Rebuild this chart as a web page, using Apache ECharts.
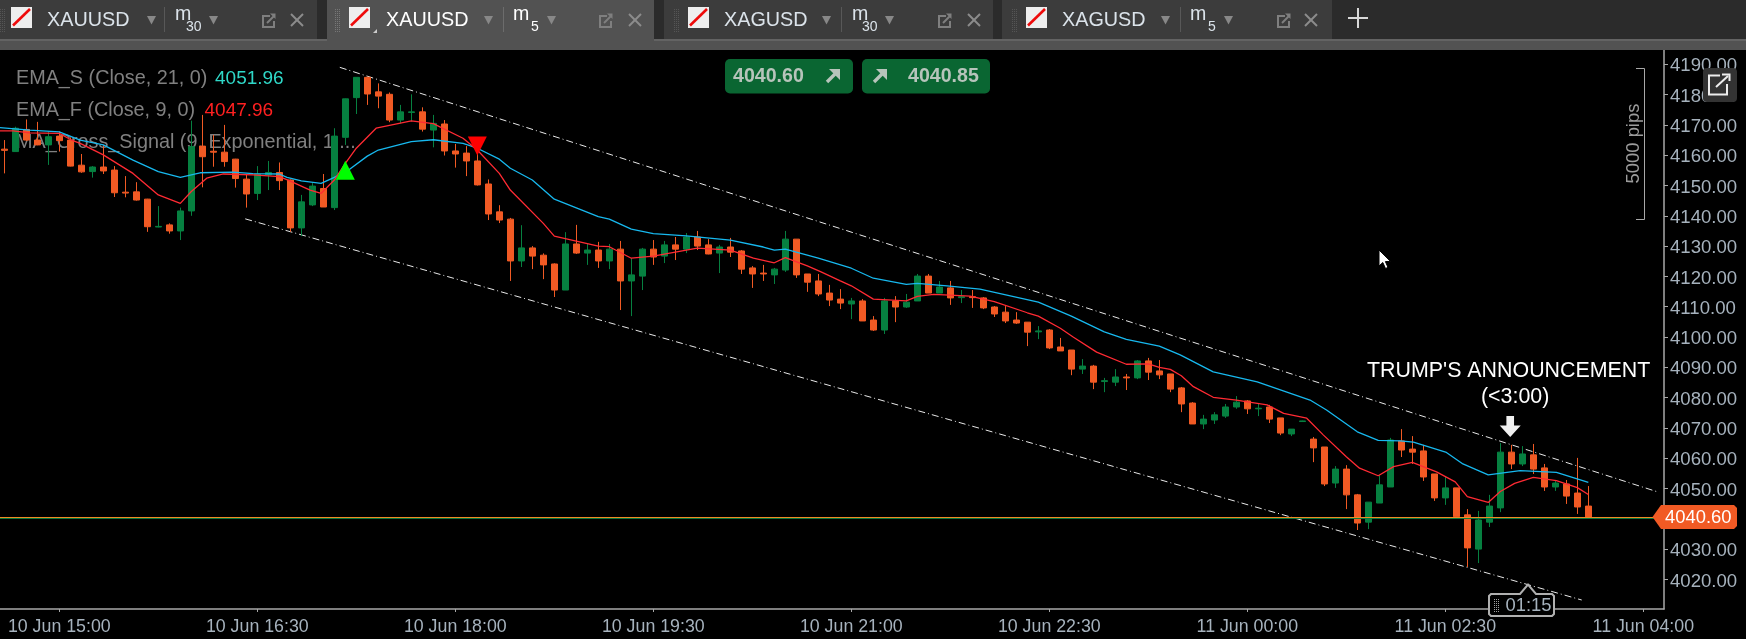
<!DOCTYPE html>
<html><head><meta charset="utf-8">
<style>html,body{margin:0;padding:0;background:#000;overflow:hidden}#c{width:1746px;height:639px}</style>
<script src="https://cdn.jsdelivr.net/npm/echarts@6/dist/echarts.min.js"></script>
</head><body><div id="c"></div>
<script>
const opens=[4162,4161.2,4168.5,4165,4163.4,4166.3,4165,4156.7,4154.6,4156.1,
4155.1,4147.8,4147.9,4145.5,4136.3,4137,4135,4141.6,4163,4161.3,
4161,4158.7,4152.1,4147.4,4153.5,4154.3,4151.8,4136,4143.6,4149,
4142.7,4165.9,4179,4185.7,4180.9,4180.1,4171.6,4174.1,4174.3,4168.3,
4170.3,4161.4,4160.7,4158.1,4150.5,4141.3,4138.9,4125.1,4129.4,4127,
4124.1,4115.5,4130.7,4127.7,4128.7,4125.1,4129,4118.5,4120.1,4129,
4126.7,4130.4,4129,4133,4130.4,4127.7,4129.7,4128.4,4122.8,4121.1,
4120.5,4122.1,4132.3,4120.8,4118.5,4114.5,4112.5,4110.9,4111.9,4105.6,
4102.3,4111.9,4109.9,4111.9,4120.1,4114.5,4116.2,4113,4113.3,4112.9,
4109.9,4108.2,4105.6,4104.9,4101.7,4102.3,4096.7,4095.7,4089.4,4090.4,
4085.3,4085.1,4086.8,4086.5,4092.1,4088.8,4087.8,4083.2,4078.2,4071.3,
4072.6,4073.9,4076.9,4078.9,4076.3,4076.9,4073.3,4068,4072.1,4066.3,
4063.7,4051.8,4056.4,4047.9,4038.9,4045.2,4050.5,4065.7,4063,4062.4,
4054.8,4046.9,4050.2,4041.3,4030,4038.9,4043.6,4062,4058.1,4061.1,
4056.8,4050.5,4051.5,4048.5,4044.2];
const closes=[4161.6,4168.9,4165,4163.4,4166.1,4164.8,4156.4,4154.5,4156.1,4154.8,
4147.6,4147.5,4145.2,4136.4,4136.5,4135,4141.6,4162.8,4159.5,4161,
4157.9,4152.3,4147.2,4153.8,4154.3,4151.6,4136,4144.6,4149.8,4142.9,
4166.3,4178.6,4185.7,4180.2,4179.5,4171.6,4174.3,4174.3,4168.6,4170.5,
4161.4,4160.4,4158.1,4150.2,4140.6,4138.6,4125.1,4129.4,4126.7,4123.8,
4115.5,4130.7,4127.7,4128.7,4125.1,4129,4118.5,4120.5,4129,4126.4,
4130.4,4129,4133,4130,4127.4,4129.7,4128,4122.4,4120.8,4120.8,
4122.4,4132.3,4120.5,4118.1,4114.2,4112.2,4111.2,4111.9,4105.3,4102.3,
4111.9,4109.9,4111.5,4120.1,4114.5,4116.5,4112.9,4113.3,4113,4109.6,
4107.6,4105.3,4104.6,4101.6,4102,4096.4,4095.4,4089.4,4090.4,4085.1,
4085.6,4086.8,4086.5,4092.1,4088.4,4087.5,4082.8,4077.9,4071.3,4072.9,
4074.3,4076.9,4078.5,4076.3,4076.5,4072.9,4068.3,4069.6,4072.3,4063.4,
4051.5,4056.4,4047.9,4038.6,4045.5,4051.2,4066,4062.7,4062,4053.8,
4046.9,4050.2,4040.7,4030.4,4039.6,4044.2,4062,4058.1,4061.4,4056.4,
4050.5,4051.8,4047.5,4043.9,4040.6];
const lows=[4154,4161.2,4164.7,4163.3,4156.8,4161.2,4156.3,4154.2,4152.6,4153.8,
4146.2,4146.1,4145,4134.7,4136.2,4134.1,4132,4140,4149.4,4156.2,
4156.2,4149.3,4142.7,4145.2,4148.5,4148.5,4134.7,4133.3,4143.2,4142.9,
4141.9,4163.4,4173.6,4176.6,4175.5,4170.9,4170.5,4171.1,4167.8,4162.6,
4159.9,4155.9,4153.1,4150,4138.6,4137.6,4118.5,4123.1,4122.4,4119.1,
4113.2,4115.5,4127.4,4123.8,4122.8,4122.4,4108.9,4106.9,4115.5,4123.8,
4124.4,4125.4,4127.7,4128.7,4127.3,4121.1,4126.4,4120.8,4116.2,4118.5,
4117.5,4121.5,4119.5,4114.9,4113.5,4110.2,4109.2,4105.9,4105.3,4102,
4101,4104.9,4109.6,4111.9,4114.5,4114.5,4110.6,4111.2,4109.6,4109.2,
4106.6,4104.6,4104.3,4097,4099.3,4096,4095.4,4087.4,4087.8,4082.8,
4081.8,4083.8,4082.5,4086.1,4085.8,4086.1,4081.8,4075.2,4071.3,4069.6,
4071.3,4073.3,4076.3,4074.6,4073.9,4071.6,4067.6,4067.3,4072,4058.7,
4050.8,4050.2,4043.2,4036.3,4036.6,4045.2,4050.5,4060.4,4058.1,4052.5,
4045.9,4044.6,4040.7,4024.1,4025.4,4037.3,4042.2,4056.4,4057.4,4054.8,
4049.2,4049.2,4044.9,4041.6,4040.6];
const highs=[4165,4169.4,4171.8,4171,4167.8,4167.8,4165.9,4160.4,4156.4,4163.4,
4156.4,4153.1,4151.1,4145.6,4143.2,4137.5,4142.7,4171.4,4173.3,4166.7,
4170,4158.8,4153.8,4156.4,4158.1,4157.6,4152,4146.9,4150.8,4153.8,
4168.9,4178.7,4185.7,4185.9,4183.7,4180.7,4176.6,4180.1,4175.8,4173.3,
4171.6,4163.7,4163,4162.3,4152,4143.5,4139.3,4136.9,4130,4127.6,
4124.3,4134.6,4137,4130.7,4131.4,4130.7,4131.7,4126,4129.4,4132,
4131.7,4133,4134.3,4135,4132.3,4130.4,4132.7,4128.7,4123.4,4123.8,
4122.8,4135,4132.3,4120.8,4120.8,4117.2,4115.8,4112.9,4112.5,4106.9,
4112.9,4113.5,4114.2,4120.8,4120.8,4118.5,4118.5,4115.5,4115.5,4113.2,
4110.2,4110.2,4108.2,4104.9,4103.6,4102.6,4099.7,4095.7,4092.7,4090.8,
4086.5,4089.4,4087.8,4092.4,4093.1,4092.4,4087.8,4083.5,4078.5,4074.3,
4075.2,4077.9,4080.5,4079.2,4077.9,4077.6,4073.3,4069.6,4072.4,4067,
4063.7,4057.4,4057.7,4048.2,4045.5,4054.4,4066.7,4069.6,4067.3,4064.4,
4054.8,4054.1,4050.2,4043.2,4042.6,4047.9,4065,4064.4,4064,4064.7,
4058.1,4052.5,4052.8,4060.1,4050.8];
const emaSlowBars=[-0.4,2.3,5,6.9,9,11.7,14,16,17.8,20.8,22.6,25,25.7,27,28.8,30,31.3,33,34,37,39,41.7,43,45,46,48,50,54,55,57,59,62,66,69,70,71,74,77,79,82,83,85.7,88.7,94,97,100,102,105,106.9,109.9,113.9,118.7,120.2,123,124.9,126.9,128.1,131.1,132.6,134.9,137.8,141.1,144];
const emaSlowVals=[4169.1,4168.3,4167.7,4165,4163.4,4158.4,4154.6,4152.7,4154.2,4154.4,4153.9,4153.8,4152.7,4151.5,4150.7,4152.7,4155.1,4159.7,4161.7,4164.5,4165.1,4163.9,4162.3,4158.7,4155.7,4151.8,4145.5,4139.7,4138.9,4135.6,4134.1,4133.4,4132,4129.7,4128.7,4129,4126,4122.7,4119.4,4117.4,4117.7,4116.9,4115.8,4111.5,4106.9,4101.7,4099.2,4097,4094.1,4088.5,4085.2,4079.2,4075.9,4068.7,4065.9,4065.7,4065.3,4061.9,4058.1,4054.5,4055.9,4055.3,4052];
const emaFastBars=[-0.4,0.8,2.3,5,6.1,6.9,9,11.7,14,16,17,18.4,19.9,22.6,25,25.8,27.8,28.8,30,31,32,33.8,37,39,41.7,43,45,46,49,50,54,55,57,59,61,63,66,68.1,70,71,73,74.2,76,77,79,82,83,84.5,87.8,90,93,94,96,97.2,99.3,102,104,105,106,107,108.1,109.9,112,114.8,116.3,118.4,119.9,122,123.2,124.9,126.3,128,130.2,131.9,133,134.9,136,137.3,139,141.1,143,144];
const emaFastVals=[4168,4168,4167.4,4167.2,4165,4163.9,4160.1,4154,4146.9,4144.1,4148,4152.4,4153.8,4153.5,4152.9,4151.8,4148.5,4147.4,4151.8,4157.3,4162.3,4168.9,4171.3,4170.4,4165.6,4161.7,4154,4148.5,4137.5,4133.3,4130,4129.8,4126,4126.7,4128,4129.3,4128.7,4126,4124.5,4126.2,4123.5,4121.6,4118.5,4116.9,4112.5,4111.9,4113.4,4114.1,4113.5,4111.7,4108,4106.9,4102.9,4099.9,4095,4091,4091.1,4090,4089.3,4087.2,4083.6,4080.1,4079.2,4077.6,4074.8,4073.2,4067.7,4060.5,4056.7,4054.2,4057.2,4058.6,4055.5,4052.2,4047.3,4045.4,4049,4051.7,4053.7,4052.6,4050.3,4048];
const channelTop=[[30.5,4189],[150.2,4049]];
const channelBottom=[[21.9,4139],[143.4,4013.2]];
const priceLineA=4040.43, priceLineB=4040.1;
const buySignal=[[31,4155]], sellSignal=[[43,4163]], announcementArrow=[[136.9,4070.5]];
const timeTickBars=[5,23,41,59,77,95,113,131,149];
const timeTickLabels=['10 Jun 15:00','10 Jun 16:30','10 Jun 18:00','10 Jun 19:30','10 Jun 21:00','10 Jun 22:30','11 Jun 00:00','11 Jun 02:30','11 Jun 04:00'];
const priceTicks=[4020,4030,4040,4050,4060,4070,4080,4090,4100,4110,4120,4130,4140,4150,4160,4170,4180,4190];
const pairs=(a,b)=>a.map((v,i)=>[v,b[i]]);
const candles=opens.map((o,i)=>[i,o,closes[i],lows[i],highs[i]]);

const UP='#068040',DOWN='#f15a24',LBL='#a6b2bd',F='"Liberation Sans"';
function txt(text,x,y,size,fill,o){o=o||{};return {type:'text',z:o.z==null?100:o.z,silent:true,rotation:o.rot||0,x:x,y:y,style:{text:text,x:0,y:0,fill:fill,font:(o.bold?'bold ':'')+size+'px '+F,textAlign:o.align||'left',textVerticalAlign:'middle'}};}
function rect(x,y,w,h,fill,r,z){return {type:'rect',z:z==null?90:z,silent:true,shape:{x:x,y:y,width:w,height:h,r:r||0},style:{fill:fill}};}
function poly(pts,fill,z,stroke,lw){return {type:'polygon',z:z==null?100:z,silent:true,shape:{points:pts},style:{fill:fill,stroke:stroke||null,lineWidth:lw||0}};}
function pl(pts,stroke,lw,z){return {type:'polyline',z:z==null?100:z,silent:true,shape:{points:pts},style:{fill:null,stroke:stroke,lineWidth:lw||1}};}
function tri(x0,x1,y0,y1,c){return poly([[x0,y0],[x1,y0],[(x0+x1)/2,y1]],c);}
function popIcon(x,y,c){return [pl([[x+7,y+2],[x,y+2],[x,y+13],[x+11,y+13],[x+11,y+7]],c,2),pl([[x+4,y+9],[x+11,y+2]],c,2),poly([[x+7,y-0.5],[x+12.5,y-0.5],[x+12.5,y+5]],c)];}
function xIcon(x,y,c){return [pl([[x,y],[x+12,y+12]],c,2),pl([[x+12,y],[x,y+12]],c,2)];}
function grip(x,y0,y1,c,z){const e=[];for(let yy=y0;yy<y1;yy+=2){e.push(rect(x,yy,1,1,c,0,z||92),rect(x+2,yy,1,1,c,0,z||92),rect(x+4,yy,1,1,c,0,z||92));}return e;}
function tab(p){
  const tc=p.active?'#ffffff':'#dbe3ea';
  let e=[];
  if(p.grip!=null)e=e.concat(grip(p.grip,9,32,p.active?'#777':'#555'));
  e.push(rect(p.flag,7,21,21,'#eeeeee',0,95),pl([[p.flag+2,25.5],[p.flag+19,9]],'#ee0a0a',2.6,96));
  e.push(txt(p.sym,p.text,20.5,19.8,tc));
  e.push(tri(p.t1,p.t1+9,16,24.5,'#888'));
  e.push(rect(p.sep,7,1,25,p.active?'#6c6c6c':'#585858',0,95));
  e.push(txt('m',p.m,14.5,19.6,tc));
  e.push(txt(p.per,p.sub,27.5,14,tc));
  e.push(tri(p.t2,p.t2+9,16,24.5,'#888'));
  e=e.concat(popIcon(p.pop,14,'#7f7f7f'),xIcon(p.x,14,'#8c8c8c'));
  return e;
}
function upArrow(x,y,c){return [pl([[x,y+13],[x+10,y+3]],c,3.4),poly([[x+2,y],[x+13,y],[x+13,y+11]],c)];}
let g=[];
g.push(rect(0,0,1746,39,'#2b2b2b',0,80));
g.push(rect(0,39,1746,2,'#636363',0,81));
g.push(rect(0,41,1746,9,'#525252',0,81));
g.push(rect(0,0,317,39,'#3c3c3c',0,82));
g.push(rect(327,0,327,50,'#525252',0,82));
g.push(rect(664,0,329,39,'#3c3c3c',0,82));
g.push(rect(1002,0,330,39,'#3c3c3c',0,82));
g=g.concat(grip(0,9,32,'#555'));
g=g.concat(tab({sym:'XAUUSD',per:'30',flag:11,text:47,t1:147,sep:164,m:175,sub:186,t2:209,pop:263,x:291}));
g=g.concat(tab({active:true,grip:335,sym:'XAUUSD',per:'5',flag:349,text:386,t1:484,sep:503,m:513,sub:531,t2:547,pop:600,x:629}));
g=g.concat(tab({grip:674,sym:'XAGUSD',per:'30',flag:688,text:724,t1:822,sep:841,m:852,sub:862,t2:885,pop:939,x:968}));
g=g.concat(tab({grip:1012,sym:'XAGUSD',per:'5',flag:1026,text:1062,t1:1161,sep:1180,m:1190,sub:1208,t2:1224,pop:1278,x:1305}));
g.push(poly([[373,33],[377,33],[377,29]],'#cccccc'));
g.push(rect(1348,17,20,2,'#d8d8d8',0,95),rect(1357,8,2,20,'#d8d8d8',0,95));
// indicator legend
g.push(txt('EMA_S (Close, 21, 0)',16,79,19.8,'#808080',{z:1}));
g.push(txt('4051.96',215,79,19,'#2fd8c8',{z:1}));
g.push(txt('EMA_F (Close, 9, 0)',16,111,19.8,'#808080',{z:1}));
g.push(txt('4047.96',204.5,111,19,'#ff2020',{z:1}));
g.push(txt('MA_Cross_Signal (9, Exponential, 1,...',16,142.5,19.8,'#808080',{z:1}));
// bid / ask
g.push(rect(725,59,128,34.5,'#0a6632',5));
g.push(rect(862,59,128,34.5,'#0a6632',5));
g.push(txt('4040.60',733,76.5,19.6,'#b7c4bb',{bold:true}));
g.push(txt('4040.85',908,76.5,19.6,'#b7c4bb',{bold:true}));
g=g.concat(upArrow(827,69,'#b7c4bb'),upArrow(874,69,'#b7c4bb'));
// pips ruler
g.push(pl([[1636,68.5],[1644.5,68.5],[1644.5,219.5],[1636,219.5]],'#a8a8a8',1));
g.push(txt('5000 pips',1633.5,143.5,18.4,'#9c9c9c',{rot:Math.PI/2,align:'center'}));
// pop-out button
g.push(rect(1703,68,34,34,'#333333',4));
g.push(pl([[1720,75.5],[1709,75.5],[1709,94.5],[1727,94.5],[1727,84]],'#eeeeee',2,101));
g.push(pl([[1716,87],[1728,76]],'#eeeeee',2,101),pl([[1722,74.5],[1729.5,74.5],[1729.5,81]],'#eeeeee',2,101));
// price tag
g.push(poly([[1652.5,517],[1661,505],[1734,505],[1737,508],[1737,526],[1734,529],[1661,529]],DOWN));
g.push(txt('4040.60',1665,517.5,18.4,'#ffffff',{z:101}));
// annotation
g.push(txt("TRUMP'S ANNOUNCEMENT",1367,371,21.4,'#ffffff'));
g.push(txt('(<3:00)',1481,397,21.4,'#ffffff'));
// countdown callout
g.push(poly([[1491,594],[1520,594],[1528,584.5],[1536,594],[1552,594],[1554,596],[1554,614],[1552,616],[1491,616],[1489,614],[1489,596]],'#000000',100,'#b0b0b0',2));
g=g.concat(grip(1494,599,612,'#a0a0a0',101));
g.push(txt('01:15',1505.5,605.5,18.4,LBL,{z:101}));
// mouse cursor
g.push(poly([[1379,250],[1379,266],[1382.8,262.5],[1385.5,268.5],[1388,267.4],[1385.4,261.6],[1390.5,261.4]],'#ffffff',110,'#000000',1));

const chart=echarts.init(document.getElementById('c'),null,{width:1746,height:639,renderer:'canvas'});
const channel=(d)=>({type:'line',data:d,showSymbol:false,silent:true,z:3,lineStyle:{color:'#e8e8e8',width:1,type:[7,3,1,3]}});
const hline=(p,c,w)=>({type:'line',data:[[-0.391,p],[150.88,p]],showSymbol:false,silent:true,z:6,lineStyle:{color:c,width:w}});
chart.setOption({
  animation:false,backgroundColor:'#000000',
  grid:{left:0,right:82,top:50,bottom:30,containLabel:false},
  xAxis:{type:'value',min:-0.391,max:150.88,splitLine:{show:false},
    axisLine:{show:true,onZero:false,lineStyle:{color:'#a8a8a8',width:1.5}},
    axisTick:{show:true,length:3,customValues:timeTickBars,lineStyle:{color:'#a8a8a8',width:1}},
    axisLabel:{show:true,customValues:timeTickBars,margin:9,color:LBL,fontFamily:F,fontSize:17.8,hideOverlap:false,
      formatter:v=>timeTickLabels[timeTickBars.indexOf(v)]||''}},
  yAxis:{type:'value',position:'right',min:4010.23,max:4194.72,scale:true,splitLine:{show:false},
    axisLine:{show:true,onZero:false,lineStyle:{color:'#a8a8a8',width:1.5}},
    axisTick:{show:true,length:4,customValues:priceTicks,lineStyle:{color:'#a8a8a8',width:1}},
    axisLabel:{show:true,customValues:priceTicks,margin:6,color:LBL,fontFamily:F,fontSize:18.6,verticalAlign:'top',lineHeight:4,hideOverlap:false,
      formatter:v=>v.toFixed(2)}},
  graphic:{elements:g},
  series:[
    {type:'candlestick',data:candles,barWidth:6,silent:true,z:4,clip:true,encode:{x:0,y:[1,2,3,4]},
      itemStyle:{color:UP,color0:DOWN,borderColor:UP,borderColor0:DOWN,borderColorDoji:null,borderWidth:1}},
    channel(channelTop),channel(channelBottom),
    {type:'line',data:pairs(emaSlowBars,emaSlowVals),showSymbol:false,silent:true,z:5,lineStyle:{color:'#17b8ee',width:1.3}},
    {type:'line',data:pairs(emaFastBars,emaFastVals),showSymbol:false,silent:true,z:5,lineStyle:{color:'#ff2a33',width:1.3}},
    hline(priceLineB,'#0a7a3c',1),hline(priceLineA,'#f08a24',1.2),
    {type:'scatter',data:buySignal,symbol:'triangle',symbolSize:[19,19],silent:true,z:7,itemStyle:{color:'#00ff00',opacity:1}},
    {type:'scatter',data:sellSignal,symbol:'triangle',symbolSize:[19,19],symbolRotate:180,silent:true,z:7,itemStyle:{color:'#ff0000',opacity:1}},
    {type:'scatter',data:announcementArrow,symbol:'path://M7 0H15V10H22L11 22L0 10H7Z',symbolSize:[21,21],silent:true,z:7,itemStyle:{color:'#f0f0f0',opacity:1}}
  ]
});
</script></body></html>
